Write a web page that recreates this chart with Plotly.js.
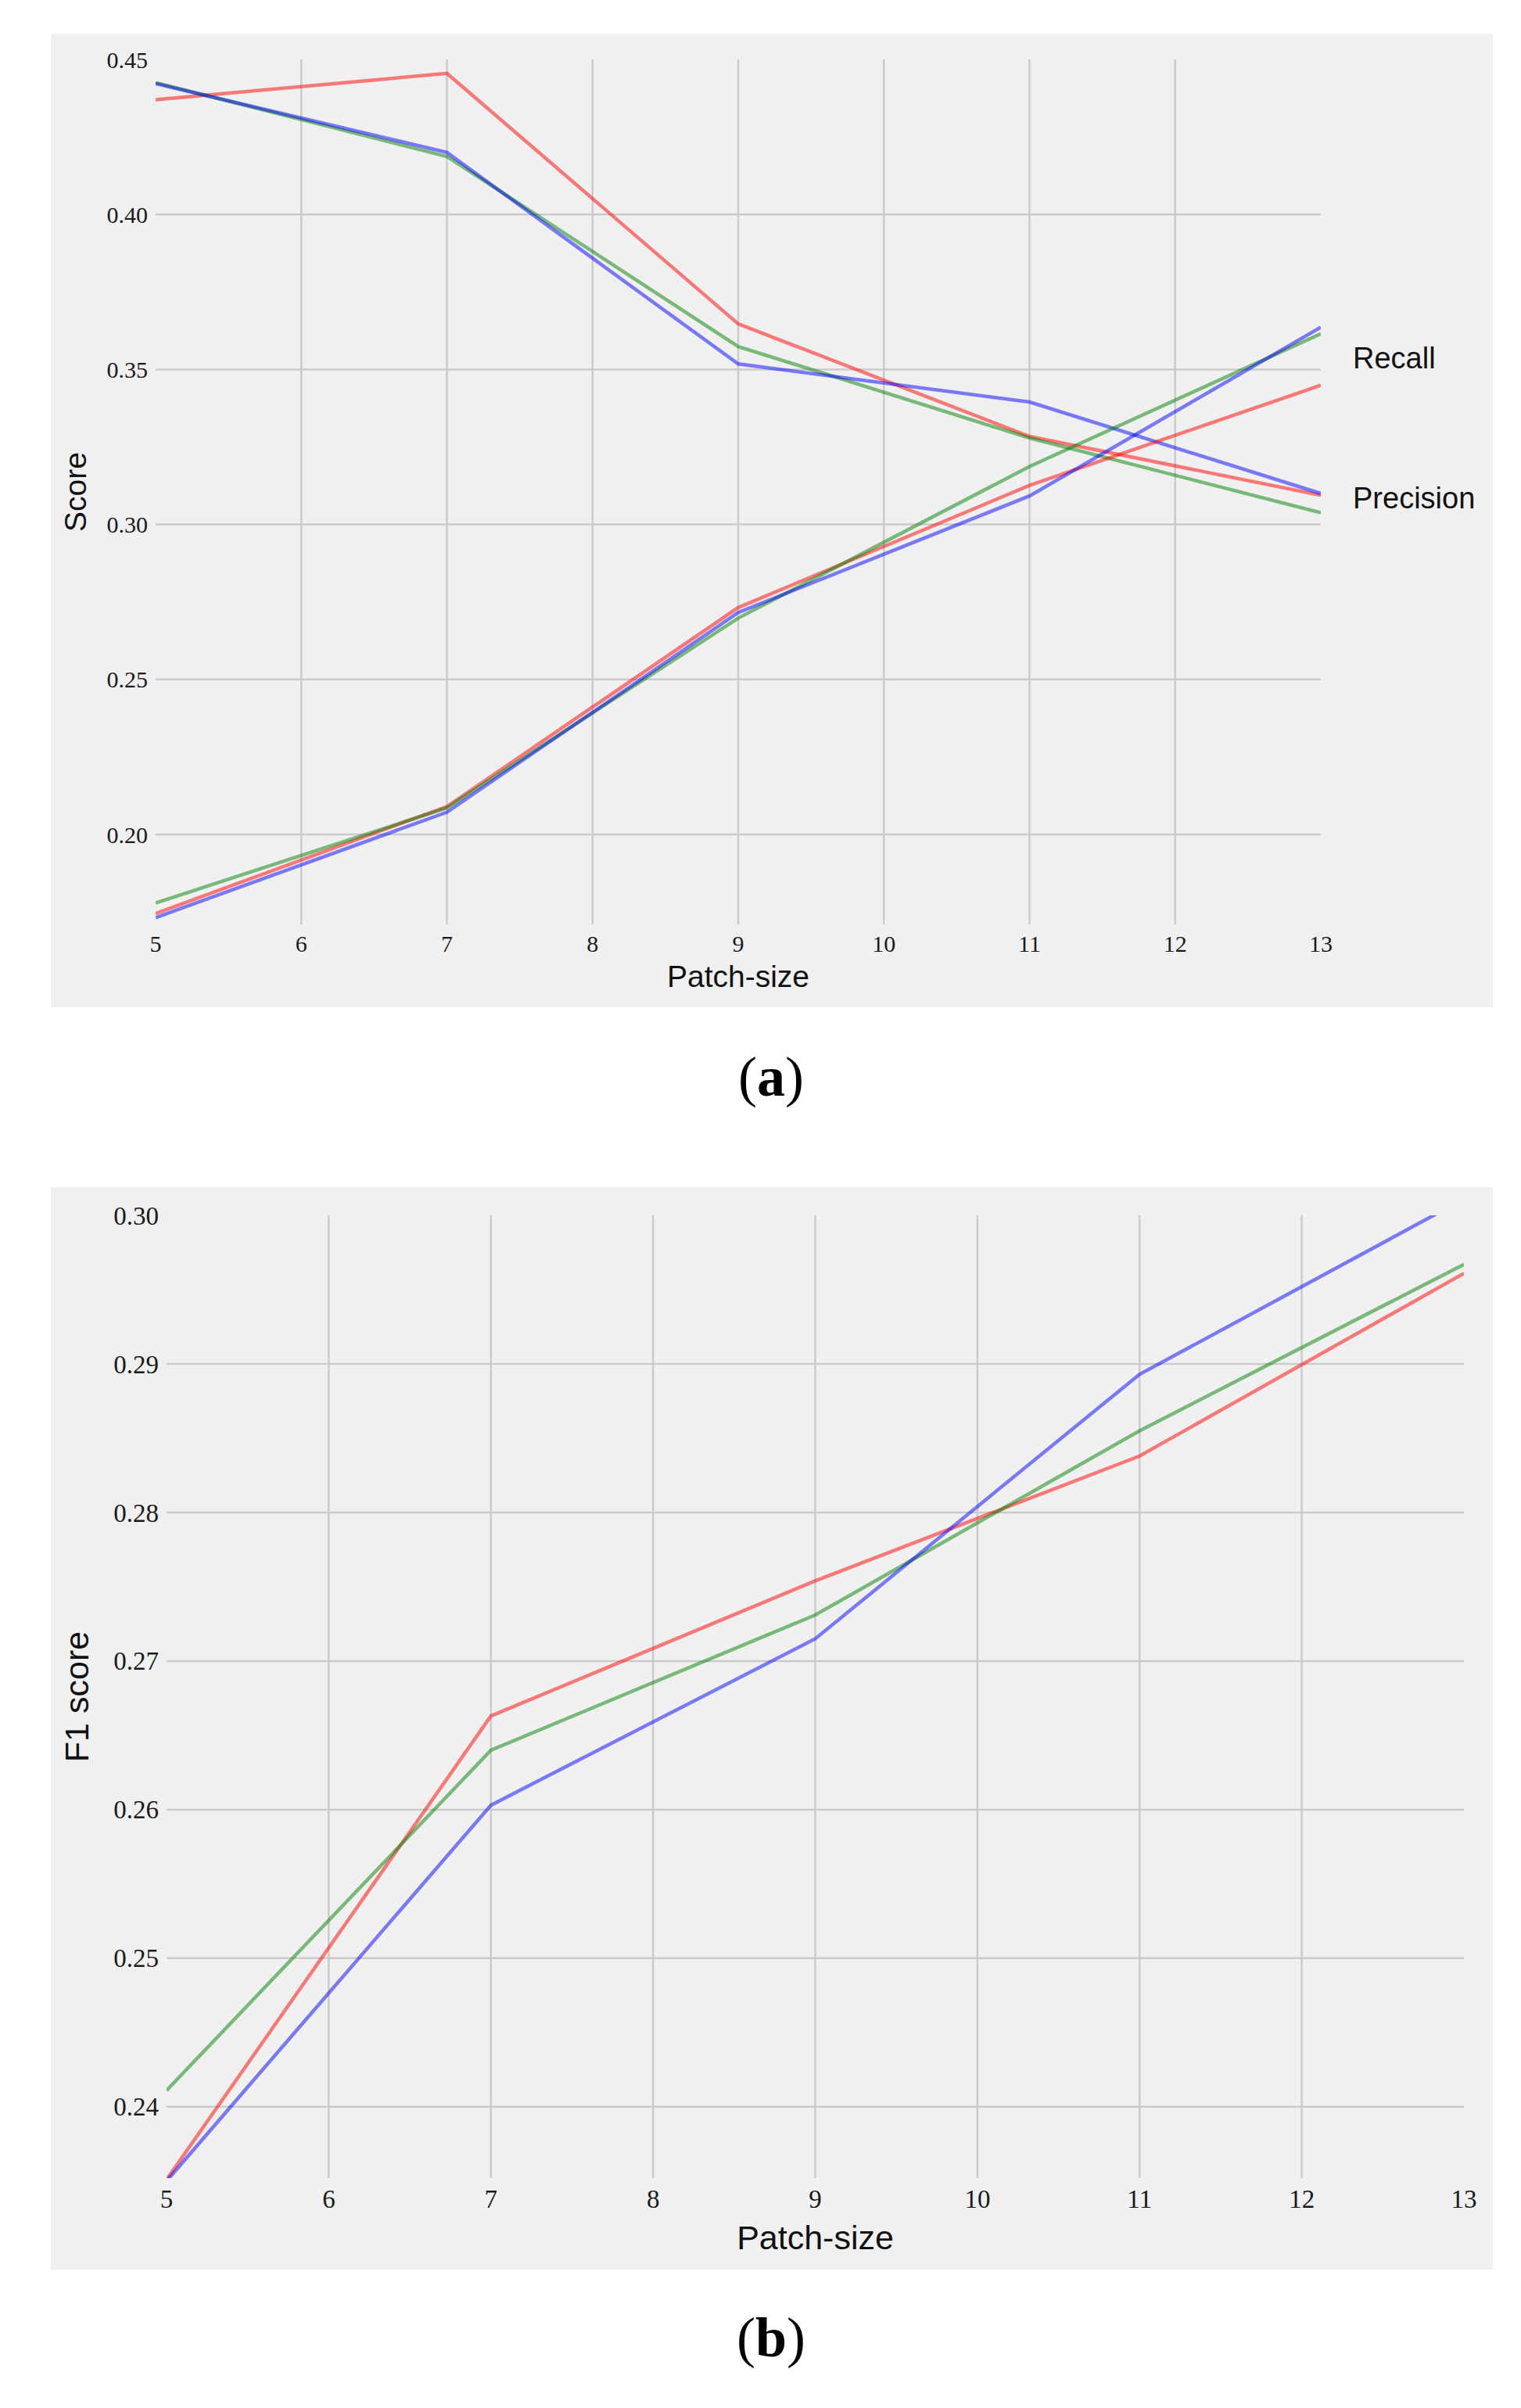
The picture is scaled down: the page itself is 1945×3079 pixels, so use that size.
<!DOCTYPE html>
<html>
<head>
<meta charset="utf-8">
<script src="https://cdn.plot.ly/plotly-3.0.1.min.js"></script>
<style>
  html, body { margin: 0; padding: 0; background: #fff; overflow: hidden; }
  #chart { width: 1945px; height: 3079px; }
</style>
</head>
<body>
<div id="chart"></div>
<script>
// patch sizes that were evaluated
const PATCH = [5, 7, 9, 11, 13];

// (a) precision and recall, one run per colour
const precRed   = [0.4370, 0.4455, 0.3647, 0.3284, 0.3094];
const precGreen = [0.4425, 0.4187, 0.3574, 0.3279, 0.3038];
const precBlue  = [0.4422, 0.4200, 0.3518, 0.3395, 0.3100];
const recRed    = [0.1745, 0.2090, 0.2732, 0.3126, 0.3449];
const recGreen  = [0.1779, 0.2086, 0.2698, 0.3187, 0.3615];
const recBlue   = [0.1732, 0.2072, 0.2716, 0.3092, 0.3636];

// (b) F1 score
const f1Red   = [0.2351, 0.2663, 0.2754, 0.2838, 0.2961];
const f1Green = [0.2411, 0.2640, 0.2731, 0.2855, 0.2967];
const f1Blue  = [0.2350, 0.2603, 0.2715, 0.2893, 0.3011];

// tick labels
const X_TICKS   = [5, 6, 7, 8, 9, 10, 11, 12, 13];
const Y_TICKS_A = [0.20, 0.25, 0.30, 0.35, 0.40, 0.45];
const Y_TICKS_B = [0.24, 0.25, 0.26, 0.27, 0.28, 0.29, 0.30];

const W = 1945, H = 3079;
const RED = 'rgba(255,0,0,0.5)', GREEN = 'rgba(0,128,0,0.5)', BLUE = 'rgba(0,0,255,0.5)';
const GRID = '#cbcbcb';
const SERIF = 'Liberation Serif, DejaVu Serif, serif';
const SANS = 'Liberation Sans, Arial, sans-serif';

function px(x0, x1) { return [x0 / W, x1 / W]; }
function py(top, bottom) { return [1 - bottom / H, 1 - top / H]; }

function line(y, color, xa, ya) {
  return {
    x: PATCH, y: y, type: 'scatter', mode: 'lines',
    xaxis: xa, yaxis: ya, hoverinfo: 'skip',
    line: { color: color, width: 4.5 }
  };
}

const traces = [
  line(precRed, RED, 'x', 'y'),
  line(precGreen, GREEN, 'x', 'y'),
  line(precBlue, BLUE, 'x', 'y'),
  line(recRed, RED, 'x', 'y'),
  line(recGreen, GREEN, 'x', 'y'),
  line(recBlue, BLUE, 'x', 'y'),
  line(f1Red, RED, 'x2', 'y2'),
  line(f1Green, GREEN, 'x2', 'y2'),
  line(f1Blue, BLUE, 'x2', 'y2')
];

// grid only on the inner ticks, like the original (no lines on the frame edges)
function gridShapes(xTicks, yTicks, xr, yr) {
  const out = [];
  xTicks.slice(1, -1).forEach(v => out.push({
    type: 'line', layer: 'below', xref: xr, yref: yr + ' domain',
    x0: v, x1: v, y0: 0, y1: 1, line: { color: GRID, width: 2.5 }
  }));
  yTicks.slice(0, -1).forEach(v => out.push({
    type: 'line', layer: 'below', xref: xr + ' domain', yref: yr,
    x0: 0, x1: 1, y0: v, y1: v, line: { color: GRID, width: 2.5 }
  }));
  return out;
}

function panelBg(x0, x1, top, bottom) {
  return {
    type: 'rect', layer: 'below', xref: 'paper', yref: 'paper',
    x0: x0 / W, x1: x1 / W, y0: 1 - bottom / H, y1: 1 - top / H,
    fillcolor: '#f0f0f0', line: { width: 0 }
  };
}

function xAxis(domain, anchor, tickSize, titleSize, standoff) {
  return {
    domain: domain, anchor: anchor, range: [5, 13],
    tickmode: 'array', tickvals: X_TICKS, ticks: '', showgrid: false,
    zeroline: false, showline: false,
    tickfont: { family: SERIF, size: tickSize, color: '#1a1a1a' },
    ticklabelstandoff: 4,
    title: { text: 'Patch-size', font: { family: SANS, size: titleSize, color: '#111' }, standoff: standoff },
    automargin: false, fixedrange: true
  };
}

function yAxis(domain, anchor, range, ticks, text, tickSize, titleSize, standoff) {
  return {
    domain: domain, anchor: anchor, range: range,
    tickmode: 'array', tickvals: ticks, tickformat: '.2f', ticks: '',
    showgrid: false, zeroline: false, showline: false,
    tickfont: { family: SERIF, size: tickSize, color: '#1a1a1a' },
    ticklabelstandoff: 9,
    title: { text: text, font: { family: SANS, size: titleSize, color: '#111' }, standoff: standoff },
    automargin: false, fixedrange: true
  };
}

const layout = {
  width: W, height: H, autosize: false,
  margin: { l: 0, r: 0, t: 0, b: 0 },
  paper_bgcolor: '#ffffff', plot_bgcolor: 'rgba(0,0,0,0)',
  showlegend: false,
  xaxis:  xAxis(px(199, 1689), 'y', 30, 39, 12),
  yaxis:  yAxis(py(76, 1182), 'x', [0.171, 0.45], Y_TICKS_A, 'Score', 30, 39, 13),
  xaxis2: xAxis(px(213, 1872), 'y2', 33, 43, 16),
  yaxis2: yAxis(py(1554, 2785), 'x2', [0.2352, 0.30], Y_TICKS_B, 'F1 score', 33, 43, 18),
  shapes: [
    panelBg(65, 1909, 43, 1288),
    panelBg(65, 1909, 1518, 2902)
  ].concat(gridShapes(X_TICKS, Y_TICKS_A, 'x', 'y'))
   .concat(gridShapes(X_TICKS, Y_TICKS_B, 'x2', 'y2')),
  annotations: [
    { xref: 'x', yref: 'y', x: 13, y: 0.3536, xanchor: 'left', xshift: 39,
      text: 'Recall', showarrow: false, font: { family: SANS, size: 38, color: '#111' } },
    { xref: 'x', yref: 'y', x: 13, y: 0.3085, xanchor: 'left', xshift: 39,
      text: 'Precision', showarrow: false, font: { family: SANS, size: 38, color: '#111' } },
    { xref: 'paper', yref: 'paper', x: 986 / W, y: 1 - 1377 / H, xanchor: 'center', yanchor: 'middle',
      text: '(<b>a</b>)', showarrow: false, font: { family: SERIF, size: 72, color: '#000' } },
    { xref: 'paper', yref: 'paper', x: 986 / W, y: 1 - 2989 / H, xanchor: 'center', yanchor: 'middle',
      text: '(<b>b</b>)', showarrow: false, font: { family: SERIF, size: 72, color: '#000' } }
  ]
};

Plotly.newPlot('chart', traces, layout, { displayModeBar: false, staticPlot: true });
</script>
</body>
</html>
